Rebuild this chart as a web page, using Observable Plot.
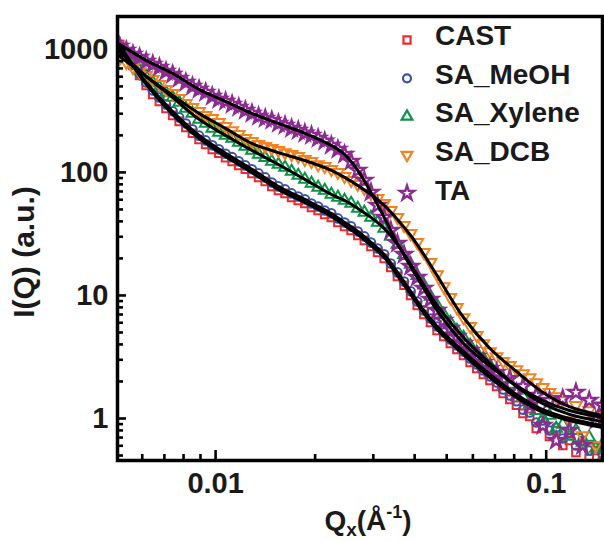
<!DOCTYPE html>
<html><head><meta charset="utf-8">
<script src="https://cdn.jsdelivr.net/npm/d3@7"></script>
<script src="https://cdn.jsdelivr.net/npm/@observablehq/plot@0.6"></script>
<style>body{margin:0;background:#fff}#chart{width:604px;height:542px}</style>
</head><body><div id="chart"></div>
<script>
// ---------- DATA ----------
const seriesNames = ["CAST", "SA_MeOH", "SA_Xylene", "SA_DCB", "TA"];
const seriesColors = ["#ee2a2e", "#3a54a4", "#0d9347", "#f58220", "#8c2b90"];

const qData = [0.005129, 0.005370, 0.005623, 0.005888, 0.006166, 0.006457, 0.006761, 0.007079, 0.007413, 0.007762,
  0.008128, 0.008511, 0.008913, 0.009333, 0.009772, 0.01023, 0.01072, 0.01122, 0.01175, 0.01230,
  0.01288, 0.01349, 0.01413, 0.01479, 0.01549, 0.01622, 0.01698, 0.01778, 0.01862, 0.01950,
  0.02042, 0.02138, 0.02239, 0.02344, 0.02455, 0.02570, 0.02692, 0.02818, 0.02951, 0.03090,
  0.03236, 0.03388, 0.03548, 0.03715, 0.03890, 0.04074, 0.04266, 0.04467, 0.04677, 0.04898,
  0.05129, 0.05370, 0.05623, 0.05888, 0.06166, 0.06457, 0.06761, 0.07079, 0.07413, 0.07762,
  0.08128, 0.08511, 0.08913, 0.09333, 0.09772, 0.1023, 0.1072, 0.1122, 0.1175, 0.1230,
  0.1288, 0.1349, 0.1413, 0.1479];

const castI = [1098, 894, 741, 615, 510, 431, 378, 331, 291, 260, 232, 208, 185, 169, 154, 143, 132, 123, 114, 106,
  98.1, 91.1, 84.5, 76.9, 71.4, 67.5, 62.6, 59.2, 56.0, 51.9, 49.1, 45.5, 43.1, 39.2, 36.4, 33.8, 30.7, 28.0, 25.0, 22.4,
  20.0, 16.9, 14.3, 12.1, 10.0, 8.29, 7.01, 6.03, 5.19, 4.64, 4.07, 3.64, 3.25, 2.85, 2.55, 2.28, 2.04, 1.82, 1.60, 1.43,
  1.28, 1.10, 1.04, 0.829, 0.877, 0.714, 0.799, 0.603, 0.662, 0.529, 0.615, 0.473, 0.549, 0.447];
const meohI = [1058, 894, 755, 638, 539, 464, 407, 357, 314, 280, 250, 224, 199, 182, 166, 154, 142, 133, 123, 114,
  106, 98.2, 91.1, 82.9, 77.0, 72.8, 67.5, 63.8, 60.4, 55.9, 52.9, 49.0, 46.5, 42.3, 39.2, 36.4, 33.1, 30.2, 26.9, 24.1,
  21.6, 18.2, 15.4, 13.0, 10.8, 8.94, 7.56, 6.50, 5.59, 5.00, 4.39, 3.92, 3.50, 3.07, 2.75, 2.46, 2.20, 1.96, 1.72, 1.54,
  1.38, 1.18, 1.12, 0.928, 0.963, 0.799, 0.845, 0.688, 0.755, 0.603, 0.662, 0.549, 0.592, 0.519];
const xyleneI = [982, 861, 755, 675, 603, 539, 491, 447, 407, 371, 331, 302, 270, 250, 228, 211, 200, 189, 175, 163,
  151, 140, 132, 123, 116, 110, 102, 94.6, 87.7, 81.4, 75.5, 71.4, 66.2, 62.6, 59.2, 56.0, 51.0, 47.3, 43.1, 39.2,
  35.0, 30.2, 26.0, 21.5, 17.9, 14.5, 12.1, 9.81, 8.29, 7.01, 6.03, 5.19, 4.55, 3.92, 3.44, 3.07, 2.70, 2.37, 2.11, 1.89,
  1.69, 1.51, 1.30, 1.16, 1.00, 1.06, 0.829, 0.894, 0.714, 0.798, 0.638, 0.701, 0.570, 0.615];
const dcbI = [845, 784, 714, 662, 615, 570, 519, 473, 439, 400, 364, 338, 313, 291, 275, 255, 237, 219, 204, 189,
  179, 169, 163, 157, 151, 145, 140, 135, 128, 123, 116, 112, 106, 100, 92.8, 86.1, 79.9, 74.1, 67.5, 61.5,
  56.0, 49.1, 43.1, 37.1, 31.9, 27.0, 22.4, 18.6, 14.8, 11.8, 9.63, 7.99, 6.62, 5.60, 4.73, 4.07, 3.50, 3.19, 2.91, 2.70,
  2.50, 2.32, 2.15, 1.96, 1.79, 1.63, 1.51, 1.40, 0.963, 1.28, 0.727, 1.16, 0.603, 1.06];
const taI = [1058, 982, 911, 861, 799, 755, 714, 662, 626, 581, 539, 500, 473, 447, 415, 392, 378, 357, 338, 319,
  302, 285, 275, 265, 250, 241, 228, 219, 208, 200, 189, 179, 166, 154, 140, 123, 104, 86.1, 68.8, 53.9,
  43.1, 33.7, 26.5, 21.5, 17.2, 14.0, 11.4, 9.28, 7.55, 6.26, 5.39, 4.64, 4.07, 3.57, 3.19, 2.85, 2.55, 2.37, 2.04, 2.11,
  1.63, 1.82, 1.28, 1.54, 0.877, 1.40, 0.662, 1.45, 0.798, 1.63, 0.603, 1.40, 0.963, 1.28];

// model fits (black curves)
const qFit = [0.005129, 0.006166, 0.007413, 0.008913, 0.01072, 0.01288, 0.01549, 0.01862, 0.02239, 0.02455, 0.02692,
  0.02951, 0.03236, 0.03548, 0.03890, 0.04266, 0.04677, 0.05623, 0.06761, 0.08128, 0.09772, 0.1175, 0.1479];
const castFit = [1078, 519, 296, 189, 135, 100, 72.8, 57.0, 43.9, 37.1, 31.3, 25.5, 20.4, 14.5, 10.2, 7.14, 5.29, 3.31, 2.15, 1.48, 1.12, 0.963, 0.845];
const meohFit = [1058, 539, 313, 200, 143, 106, 76.9, 60.3, 46.4, 39.2, 33.1, 27.0, 21.5, 15.4, 10.8, 7.55, 5.60, 3.50, 2.28, 1.57, 1.18, 1.00, 0.877];
const xyleneFit = [963, 603, 407, 270, 200, 151, 116, 87.7, 66.2, 59.2, 51.0, 43.1, 35.0, 26.0, 17.9, 12.1, 8.29, 4.55, 2.80, 1.82, 1.32, 1.08, 0.945];
const dcbFit = [877, 603, 423, 302, 228, 172, 145, 125, 104, 91.1, 78.4, 66.2, 53.9, 41.5, 30.7, 21.5, 14.5, 6.62, 3.71, 2.41, 1.63, 1.25, 1.06];
const taFit = [1098, 814, 638, 473, 378, 302, 250, 208, 166, 140, 104, 68.8, 43.1, 26.5, 17.2, 11.4, 7.55, 4.07, 2.65, 1.85, 1.40, 1.16, 1.02];

const xMajorTicks = [0.01, 0.1];
const xMinorTicks = [0.006, 0.007, 0.008, 0.009, 0.02, 0.03, 0.04, 0.05, 0.06, 0.07, 0.08, 0.09];
const yMajorTicks = [1, 10, 100, 1000];
const yMinorTicks = [0.5, 0.6, 0.7, 0.8, 0.9, 2, 3, 4, 5, 6, 7, 8, 9, 20, 30, 40, 50, 60, 70, 80, 90,
  200, 300, 400, 500, 600, 700, 800, 900];
const yTitle = "I(Q) (a.u.)";
const xTitleParts = ["Q", "x", "(Å", "-1", ")"];

// ---------- CHART ----------
const FONT = "'Liberation Sans', Arial, Helvetica, sans-serif";
const W = 604, H = 542, mL = 117, mR = 2, mT = 16, mB = 82;
const pw = W - mL - mR, ph = H - mT - mB;

const triangleDown = {
  draw(context, size) {
    const s3 = Math.sqrt(3);
    const y = -Math.sqrt(size / (s3 * 3));
    context.moveTo(0, -y * 2);
    context.lineTo(-s3 * y, y);
    context.lineTo(s3 * y, y);
    context.closePath();
  }
};
const symbols = [d3.symbolSquare, d3.symbolCircle, d3.symbolTriangle, triangleDown, d3.symbolStar];
const dataSets = [castI, meohI, xyleneI, dcbI, taI];
const fitSets = [castFit, meohFit, xyleneFit, dcbFit, taFit];

const marks = [];
dataSets.forEach((vals, s) => {
  const rows = qData.map((q, i) => ({q, I: vals[i]}));
  marks.push(Plot.dot(rows, {
    x: "q", y: "I", symbol: symbols[s], r: s === 4 ? 4.8 : 4.3,
    stroke: seriesColors[s], fill: "none", strokeWidth: s === 4 ? 2.4 : 2, clip: true
  }));
});
fitSets.forEach((vals) => {
  const rows = qFit.map((q, i) => ({q, I: vals[i]}));
  marks.push(Plot.line(rows, {x: "q", y: "I", stroke: "black", strokeWidth: 3, curve: "catmull-rom", clip: true}));
});
marks.push(
  Plot.tickX(xMajorTicks, {x: d => d, insetTop: ph - 10, stroke: "black", strokeWidth: 2.6}),
  Plot.tickX(xMinorTicks, {x: d => d, insetTop: ph - 6, stroke: "black", strokeWidth: 2.6}),
  Plot.tickY(yMajorTicks, {y: d => d, insetRight: pw - 9, stroke: "black", strokeWidth: 2.6}),
  Plot.tickY(yMinorTicks, {y: d => d, insetRight: pw - 6, stroke: "black", strokeWidth: 2.6}),
  Plot.axisX(xMajorTicks, {tickSize: 0, tickPadding: 12, tickFormat: d => String(d), fontSize: 29, fontWeight: "bold", label: null, fill: "#1a1a1a"}),
  Plot.axisY(yMajorTicks, {tickSize: 0, tickPadding: 9, tickFormat: d => String(d), fontSize: 29, fontWeight: "bold", label: null, fill: "#1a1a1a"}),
  Plot.frame({stroke: "black", strokeWidth: 3.5})
);

const svgEl = Plot.plot({
  width: W, height: H,
  marginLeft: mL, marginRight: mR, marginTop: mT, marginBottom: mB,
  x: {type: "log", domain: [0.00505, 0.148]},
  y: {type: "log", domain: [0.4556, 1850]},
  style: {fontFamily: FONT, background: "white", color: "black"},
  marks
});
document.getElementById("chart").appendChild(svgEl);

const svg = d3.select(svgEl);
// y title
svg.append("text")
  .attr("transform", "translate(34,252) rotate(-90)")
  .attr("text-anchor", "middle")
  .attr("font-family", FONT).attr("font-weight", "bold").attr("font-size", 30)
  .attr("fill", "#1a1a1a")
  .text(yTitle);
// x title with subscript / superscript
const xt = svg.append("text")
  .attr("x", 368).attr("y", 530).attr("text-anchor", "middle")
  .attr("font-family", FONT).attr("font-weight", "bold").attr("font-size", 28)
  .attr("fill", "#1a1a1a");
xt.append("tspan").text(xTitleParts[0]);
xt.append("tspan").attr("dy", 6).attr("font-size", 19).text(xTitleParts[1]);
xt.append("tspan").attr("dy", -6).text(xTitleParts[2]);
xt.append("tspan").attr("dy", -12).attr("font-size", 18).text(xTitleParts[3]);
xt.append("tspan").attr("dy", 12).text(xTitleParts[4]);

// legend
const lg = svg.append("g").attr("text-anchor", "start");
seriesNames.forEach((name, i) => {
  const g = lg.append("g");
  g.append("path")
    .attr("transform", `translate(407,${40 + i * 38.3})`)
    .attr("d", d3.symbol().type(symbols[i]).size(i === 4 ? 64 : 50)())
    .attr("fill", "none").attr("stroke", seriesColors[i]).attr("stroke-width", i === 4 ? 2.4 : 2.2);
  g.append("text")
    .attr("x", 435).attr("y", 45 + i * 38.7)
    .attr("text-anchor", "start")
    .attr("font-family", FONT).attr("font-weight", "bold").attr("font-size", 28)
    .attr("fill", "#1a1a1a")
    .text(name);
});
</script>
</body></html>
